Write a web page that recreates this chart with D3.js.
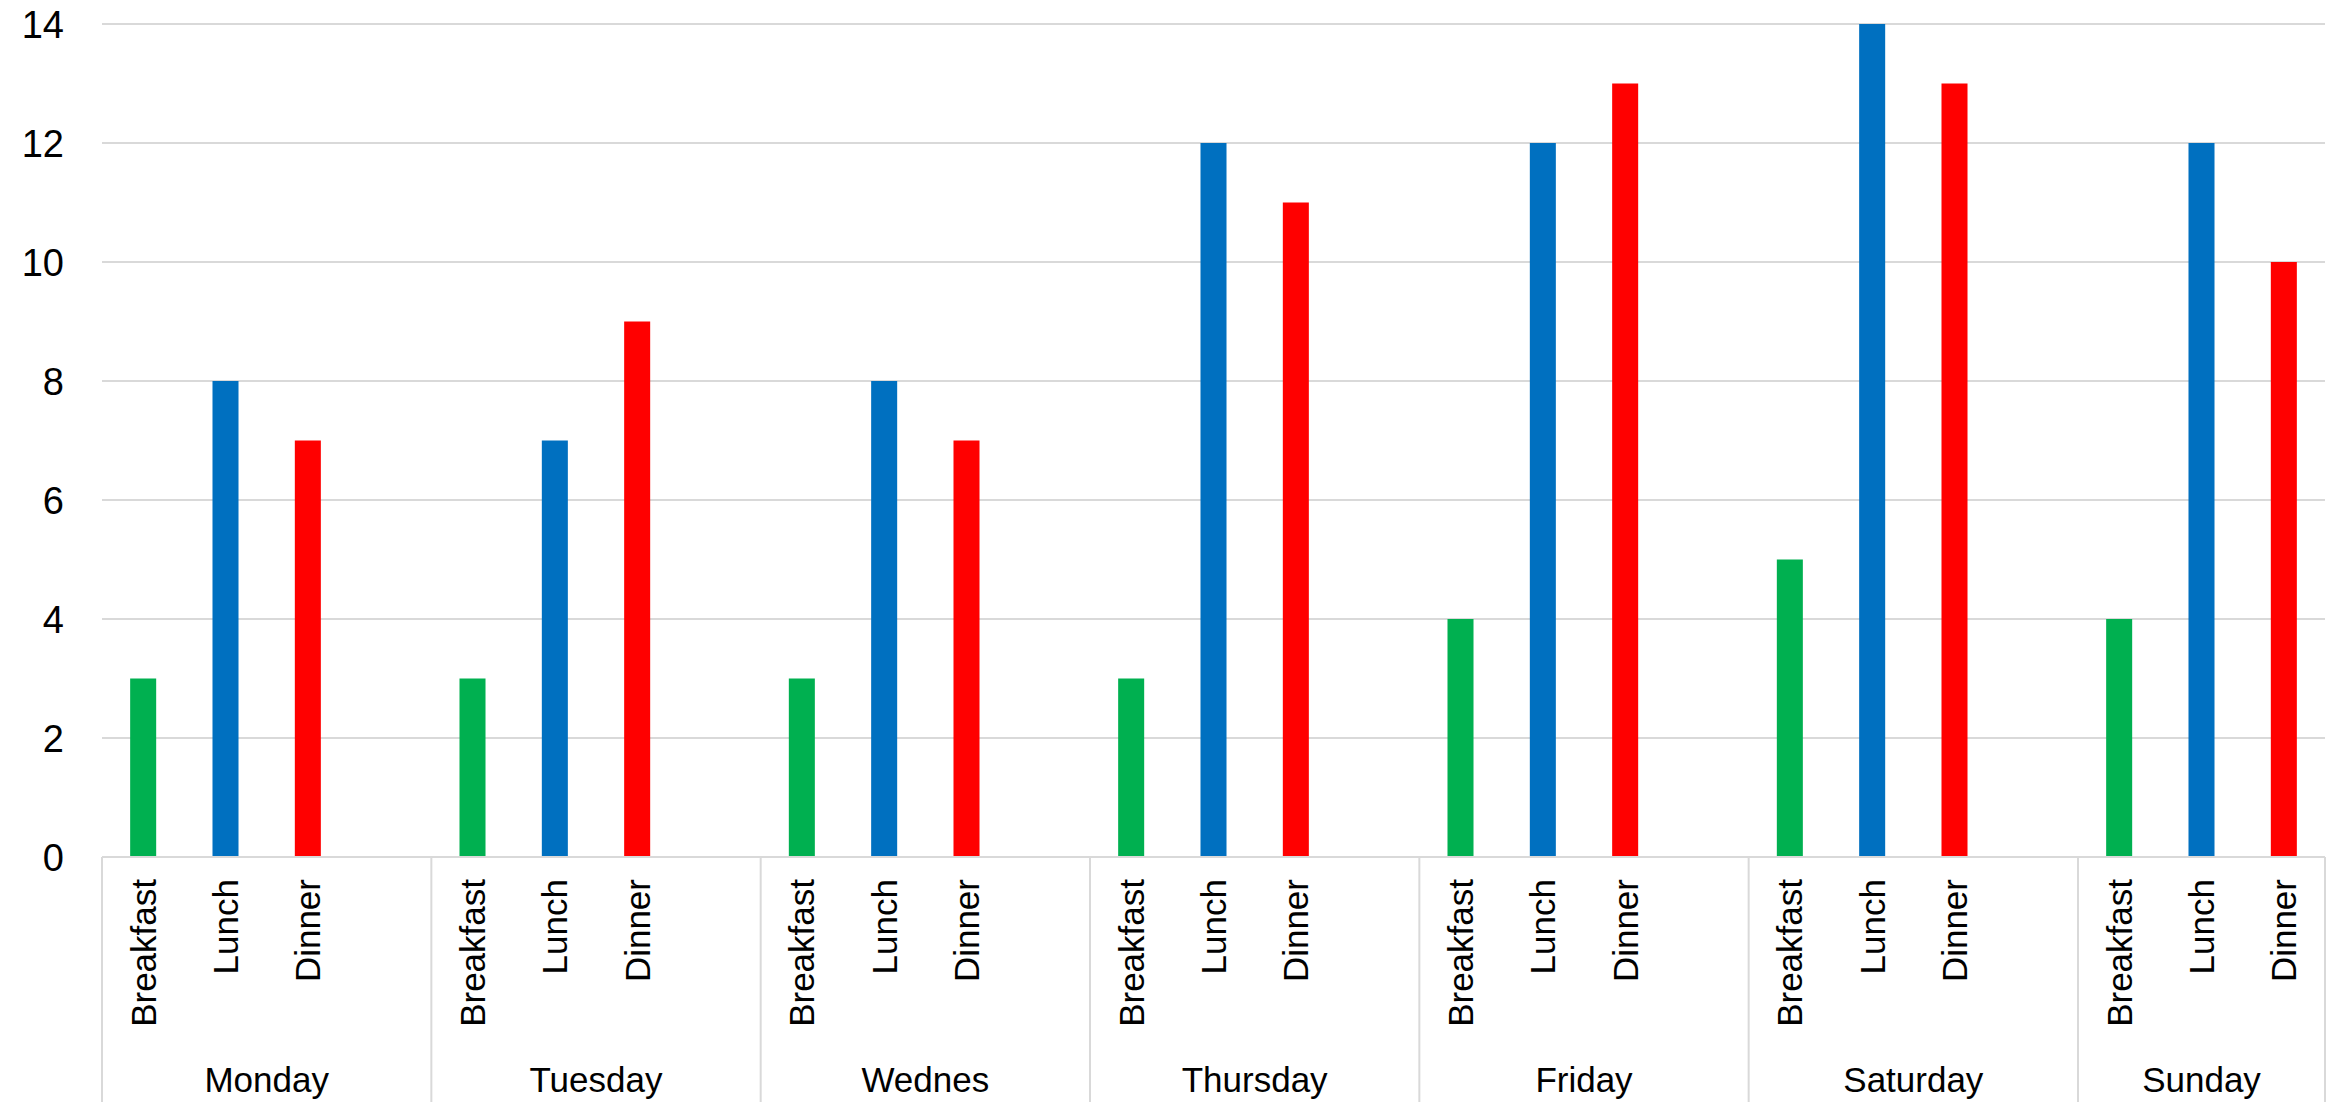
<!DOCTYPE html>
<html>
<head>
<meta charset="utf-8">
<script src="https://cdn.jsdelivr.net/npm/d3@7/dist/d3.min.js"></script>
<style>
  html, body { margin: 0; padding: 0; background: #fff; }
  svg { display: block; font-family: "Liberation Sans", Arial, sans-serif; }
</style>
</head>
<body>
<svg id="chart" width="2338" height="1102"></svg>
<script>
// Days (outer axis level) and meals (inner axis level)
const days = ["Monday", "Tuesday", "Wednes", "Thursday", "Friday", "Saturday", "Sunday"];
const meals = ["Breakfast", "Lunch", "Dinner"];
const mealColors = ["#00b050", "#0070c0", "#ff0000"];

// Counts per day, one array per meal
const breakfast = [3, 3, 3, 3, 4, 5, 4];
const lunch     = [8, 7, 8, 12, 12, 14, 12];
const dinner    = [7, 9, 7, 11, 13, 13, 10];
const series = [breakfast, lunch, dinner];

const yTicks = [0, 2, 4, 6, 8, 10, 12, 14];

const W = 2338, H = 1102;
const margin = { left: 102, right: 13, top: 24, bottom: 245 };
const svg = d3.select("#chart");

// Each day has three meal slots plus an empty spacer slot (none after the last day)
const slots = [];
days.forEach((d, di) => {
  meals.forEach((m, mi) => slots.push({ key: d + "|" + m, day: di, meal: mi, value: series[mi][di] }));
  if (di < days.length - 1) slots.push({ key: d + "|gap", day: di, meal: -1, value: null });
});

const x = d3.scaleBand()
  .domain(slots.map(s => s.key))
  .range([margin.left, W - margin.right])
  .paddingInner(0).paddingOuter(0);

const y = d3.scaleLinear()
  .domain([0, 14])
  .range([H - margin.bottom, margin.top]);

const y0 = y(0);
const barW = x.bandwidth() * 0.316;

// Horizontal gridlines
svg.append("g")
  .selectAll("line")
  .data(yTicks.filter(t => t > 0))
  .join("line")
  .attr("x1", margin.left).attr("x2", W - margin.right)
  .attr("y1", d => y(d)).attr("y2", d => y(d))
  .attr("stroke", "#d9d9d9").attr("stroke-width", 2);

// Y tick labels
svg.append("g")
  .selectAll("text")
  .data(yTicks)
  .join("text")
  .attr("x", 64)
  .attr("y", d => y(d))
  .attr("dy", "0.36em")
  .attr("text-anchor", "end")
  .attr("font-size", 38)
  .attr("fill", "#000")
  .text(d => d);

// Bars
svg.append("g")
  .selectAll("rect")
  .data(slots.filter(s => s.meal >= 0))
  .join("rect")
  .attr("x", d => x(d.key) + x.bandwidth() / 2 - barW / 2)
  .attr("width", barW)
  .attr("y", d => y(d.value))
  .attr("height", d => y0 - y(d.value))
  .attr("fill", d => mealColors[d.meal]);

// Category axis baseline
svg.append("line")
  .attr("x1", margin.left).attr("x2", W - margin.right)
  .attr("y1", y0).attr("y2", y0)
  .attr("stroke", "#d9d9d9").attr("stroke-width", 2);

// Day boundaries
const dayStart = di => x(slots.find(s => s.day === di).key);
const dayEnd = di => {
  const last = slots.filter(s => s.day === di).pop();
  return x(last.key) + x.bandwidth();
};
const bounds = days.map((d, i) => dayStart(i)).concat([W - margin.right]);
svg.append("g")
  .selectAll("line")
  .data(bounds)
  .join("line")
  .attr("x1", d => d).attr("x2", d => d)
  .attr("y1", y0).attr("y2", H)
  .attr("stroke", "#d9d9d9").attr("stroke-width", 2);

// Meal labels (rotated)
svg.append("g")
  .selectAll("text")
  .data(slots.filter(s => s.meal >= 0))
  .join("text")
  .attr("transform", d => `translate(${x(d.key) + x.bandwidth() / 2},${y0 + 22}) rotate(-90)`)
  .attr("dy", "0.36em")
  .attr("text-anchor", "end")
  .attr("font-size", 35)
  .attr("fill", "#000")
  .text(d => meals[d.meal]);

// Day labels
svg.append("g")
  .selectAll("text")
  .data(days)
  .join("text")
  .attr("x", (d, i) => (dayStart(i) + (i < days.length - 1 ? dayEnd(i) : W - margin.right)) / 2)
  .attr("y", 1092)
  .attr("text-anchor", "middle")
  .attr("font-size", 35)
  .attr("fill", "#000")
  .text(d => d);
</script>
</body>
</html>
